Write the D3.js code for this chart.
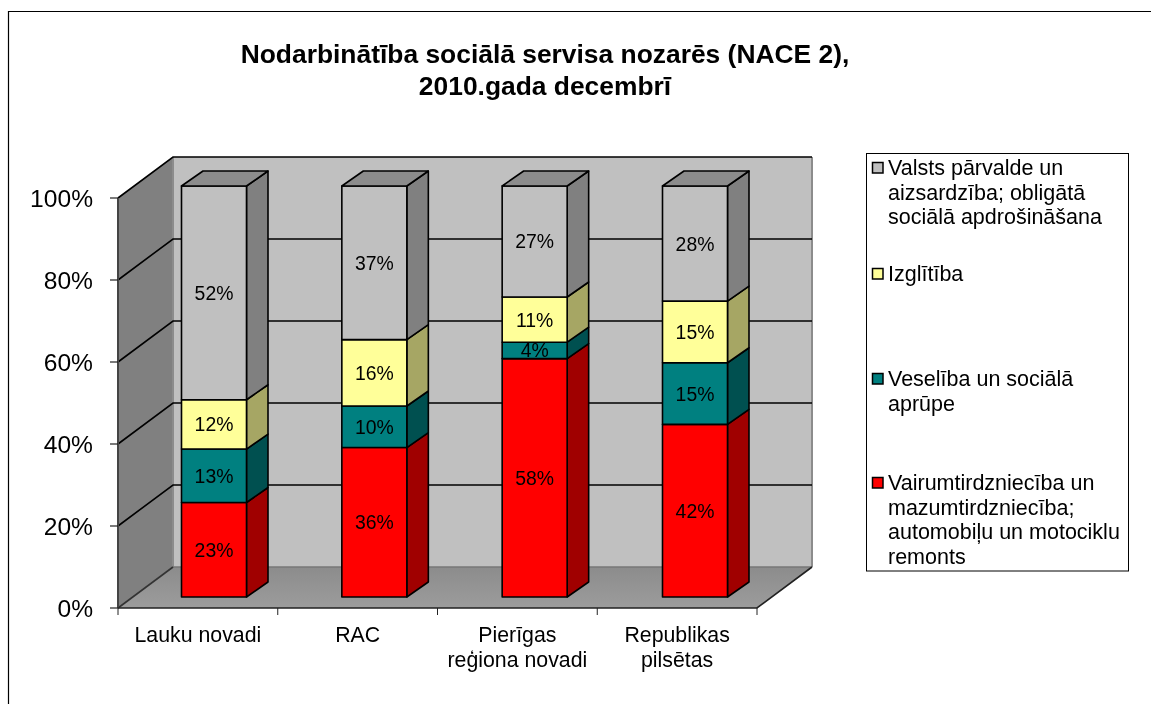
<!DOCTYPE html>
<html><head><meta charset="utf-8">
<script src="https://cdn.jsdelivr.net/npm/d3@7"></script>
<style>
html,body{margin:0;padding:0;background:#fff}
svg{display:block;filter:blur(0.4px)}
text{font-family:"Liberation Sans",Arial,sans-serif;fill:#000}
</style></head><body>
<svg id="c" width="1151" height="704"></svg>
<script>
const titleLines = ["Nodarbinātība sociālā servisa nozarēs (NACE 2),", "2010.gada decembrī"];
const categories = [["Lauku novadi"], ["RAC"], ["Pierīgas", "reģiona novadi"], ["Republikas", "pilsētas"]];
const seriesNames = ["Vairumtirdzniecība un mazumtirdzniecība", "Veselība un sociālā aprūpe", "Izglītība", "Valsts pārvalde"];
const retail = [23, 36, 58, 42];
const health = [13, 10, 4, 15];
const education = [12, 16, 11, 15];
const publicAdmin = [52, 37, 27, 28];
const yTicks = [0, 20, 40, 60, 80, 100];
const legendEntries = [
  ["Valsts pārvalde un", "aizsardzība; obligātā", "sociālā apdrošināšana"],
  ["Izglītība"],
  ["Veselība un sociālā", "aprūpe"],
  ["Vairumtirdzniecība un", "mazumtirdzniecība;", "automobiļu un motociklu", "remonts"]
];
const seriesFront = ["#ff0000", "#008080", "#ffff99", "#c0c0c0"];
const seriesSide = ["#a00000", "#005050", "#a6a664", "#808080"];
const seriesTop = ["#a00000", "#005050", "#a6a664", "#8c8c8c"];
const legendColors = ["#c0c0c0", "#ffff99", "#008080", "#ff0000"];

const svg = d3.select("#c");
svg.append("path").attr("d", "M8.5,704V11.5H1151").attr("fill", "none").attr("stroke", "#000").attr("stroke-width", 1.2);

svg.append("g").selectAll("text").data(titleLines).join("text")
  .attr("x", 545).attr("y", (d, i) => 63 + i * 32)
  .attr("text-anchor", "middle").attr("font-weight", "bold").attr("font-size", 26.4).text(d => d);

const x0 = 118, x1 = 757, dx = 55, dy = 41;
const yFront = d3.scaleLinear().domain([0, 100]).range([608, 198]);
const yBack = v => yFront(v) - dy;
const xBand = d3.scaleBand().domain(d3.range(categories.length)).range([x0, x1]);
const poly = pts => "M" + pts.map(p => p.join(",")).join("L") + "Z";

const defs = svg.append("defs");
const g = defs.append("linearGradient").attr("id", "floor").attr("x1", 0).attr("y1", 0).attr("x2", 0).attr("y2", 1);
g.append("stop").attr("offset", 0).attr("stop-color", "#8c8c8c");
g.append("stop").attr("offset", 1).attr("stop-color", "#9c9c9c");

const plot = svg.append("g");
plot.append("path").attr("d", poly([[x0 + dx, yBack(100)], [x1 + dx, yBack(100)], [x1 + dx, yBack(0)], [x0 + dx, yBack(0)]]))
  .attr("fill", "#c0c0c0").attr("stroke", "none");
plot.append("path").attr("d", poly([[x0, yFront(100)], [x0 + dx, yBack(100)], [x0 + dx, yBack(0)], [x0, yFront(0)]]))
  .attr("fill", "#808080");
plot.append("path").attr("d", poly([[x0, yFront(0)], [x0 + dx, yBack(0)], [x1 + dx, yBack(0)], [x1, yFront(0)]]))
  .attr("fill", "url(#floor)");
plot.append("path").attr("d", `M${x0 + dx},${yBack(100)}V${yBack(0)}M${x1 + dx},${yBack(100)}V${yBack(0)}`)
  .attr("stroke", "#8c8c8c").attr("stroke-width", 2).attr("fill", "none");
plot.append("path").attr("d", `M${x0 + dx},${yBack(0)}H${x1 + dx}`).attr("stroke", "#777").attr("stroke-width", 1.5);
yTicks.forEach(t => {
  const line = t === 0
    ? `M${x0},${yFront(t)}L${x0 + dx},${yBack(t)}`
    : `M${x0},${yFront(t)}L${x0 + dx},${yBack(t)}H${x1 + dx}`;
  plot.append("path").attr("d", line).attr("fill", "none")
    .attr("stroke", t === 0 ? "#333" : "#000").attr("stroke-width", 1.6);
});
plot.append("path").attr("d", `M${x0},${yFront(100)}V${yFront(0)}`).attr("stroke", "#444").attr("stroke-width", 2);
plot.append("path").attr("d", `M${x0},${yFront(0)}H${x1}L${x1 + dx},${yBack(0)}`).attr("stroke", "#222").attr("stroke-width", 1.6).attr("fill", "none");
plot.selectAll(".yt").data(yTicks).join("path").attr("class", "yt")
  .attr("d", d => `M${x0 - 8},${yFront(d)}H${x0}`).attr("stroke", "#222").attr("stroke-width", 1.2);
plot.selectAll(".xt").data(d3.range(categories.length + 1)).join("path").attr("class", "xt")
  .attr("d", d => `M${x0 + d * xBand.bandwidth()},${yFront(0)}v7`).attr("stroke", "#222").attr("stroke-width", 1);
plot.selectAll(".yl").data(yTicks).join("text").attr("class", "yl")
  .attr("x", 93).attr("y", d => yFront(d) + 9).attr("text-anchor", "end").attr("font-size", 24.6).text(d => d + "%");

const catG = plot.selectAll(".cat").data(categories).join("g").attr("class", "cat");
catG.selectAll("text").data((d, i) => d.map(s => ({ s, i }))).join("text")
  .attr("x", d => xBand(d.i) + xBand.bandwidth() / 2)
  .attr("y", (d, j) => 642 + j * 25)
  .attr("text-anchor", "middle").attr("font-size", 21.3).text(d => d.s);

const rows = categories.map((c, i) => ({ i, retail: retail[i], health: health[i], education: education[i], publicAdmin: publicAdmin[i] }));
const stack = d3.stack().keys(["retail", "health", "education", "publicAdmin"]).offset(d3.stackOffsetExpand);
const layers = stack(rows);
const barW = 65, barDx = 21.5, barDy = 15;
const barX = d3.scalePoint().domain(d3.range(categories.length)).range([181.5, 662.5]);
const yBar = d3.scaleLinear().domain([0, 1]).range([597, 186]);

layers.forEach((layer, s) => {
  layer.forEach((d, i) => {
    const xl = barX(i), xr = xl + barW, yb = yBar(d[0]), yt = yBar(d[1]);
    const st = { stroke: "#000", "stroke-width": 1.6, "stroke-linejoin": "round" };
    const side = plot.append("path").attr("d", poly([[xr, yb], [xr + barDx, yb - barDy], [xr + barDx, yt - barDy], [xr, yt]])).attr("fill", seriesSide[s]);
    const front = plot.append("path").attr("d", poly([[xl, yb], [xr, yb], [xr, yt], [xl, yt]])).attr("fill", seriesFront[s]);
    Object.entries(st).forEach(([k, v]) => { side.attr(k, v); front.attr(k, v); });
    if (s === layers.length - 1) {
      const top = plot.append("path").attr("d", poly([[xl, yt], [xl + barDx, yt - barDy], [xr + barDx, yt - barDy], [xr, yt]])).attr("fill", seriesTop[s]);
      Object.entries(st).forEach(([k, v]) => top.attr(k, v));
    }
  });
});
const seriesValues = [retail, health, education, publicAdmin];
layers.forEach((layer, s) => {
  layer.forEach((d, i) => {
    plot.append("text").attr("x", barX(i) + barW / 2)
      .attr("y", yBar((d[0] + d[1]) / 2) + 7)
      .attr("text-anchor", "middle").attr("font-size", 19.4).text(seriesValues[s][i] + "%");
  });
});

const lg = svg.append("g");
lg.append("rect").attr("x", 866.5).attr("y", 153.5).attr("width", 262).attr("height", 417.5).attr("fill", "#fff").attr("stroke", "#000").attr("stroke-width", 1);
const firstBaseline = [175, 281, 386, 490];
legendEntries.forEach((lines, k) => {
  lg.append("rect").attr("x", 872.5).attr("y", firstBaseline[k] - 12.5).attr("width", 10.5).attr("height", 10.5)
    .attr("fill", legendColors[k]).attr("stroke", "#000").attr("stroke-width", 1.5);
  lines.forEach((t, j) => lg.append("text").attr("x", 888).attr("y", firstBaseline[k] + j * 24.7).attr("font-size", 21.5).text(t));
});
</script>
</body></html>
